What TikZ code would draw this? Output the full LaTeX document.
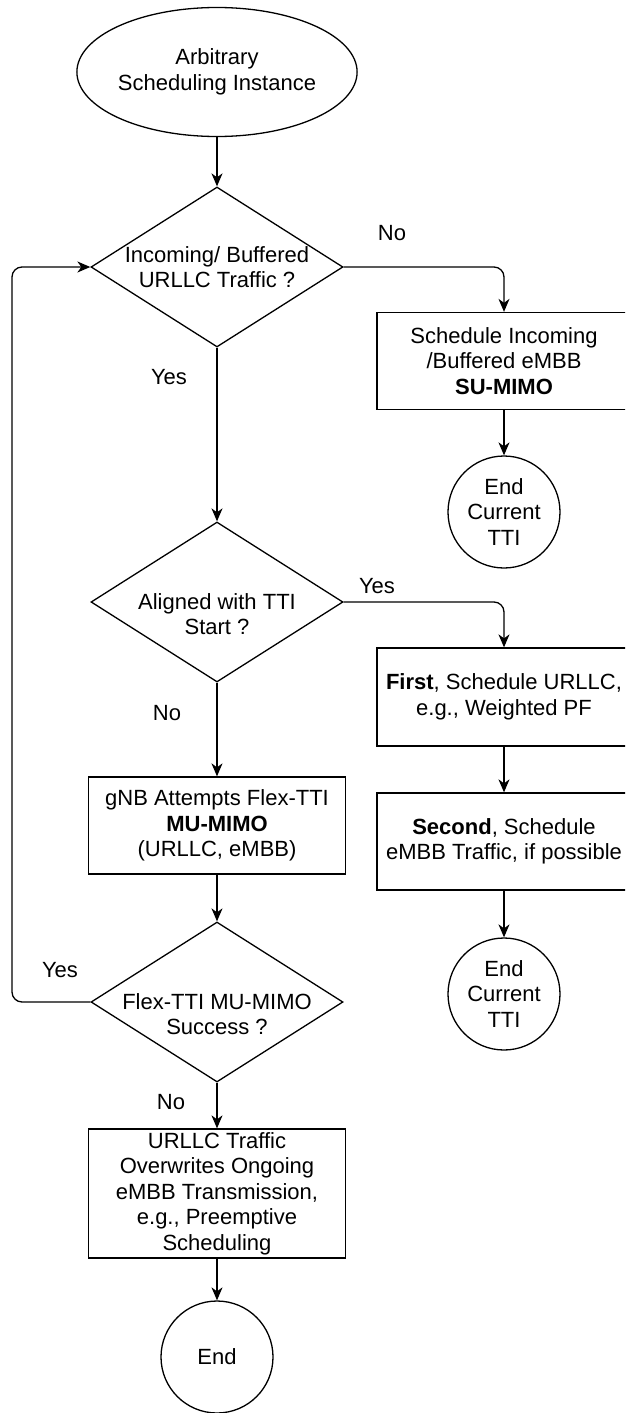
\documentclass[tikz,border=0pt]{standalone}
\usepackage{fontspec}
\setmainfont{Liberation Sans}
\usetikzlibrary{shapes.geometric,arrows.meta}

\begin{document}
\begin{tikzpicture}[x=1pt, y=-1pt,
    every node/.style={font=\fontsize{22}{25.5}\selectfont, align=center},
    terminal/.style={ellipse, draw, line width=1.3pt, inner sep=0pt},
    decision/.style={diamond, draw, line width=1.3pt, minimum width=252pt, minimum height=160pt, inner sep=0pt},
    process/.style={rectangle, draw, line width=1.3pt, minimum width=257pt, minimum height=97pt, inner sep=0pt},
    stop/.style={circle, draw, line width=1.3pt, minimum size=112pt, inner sep=0pt},
    flow/.style={-{Stealth[length=13pt, width=11pt, inset=4pt]}, line width=1.3pt, rounded corners=10pt}
]

        % Keep the picture to the size of the page
        \clip (0,0) rectangle (625,1413);

        % Start and the first question
        \node[terminal, minimum width=225pt, minimum height=129pt] (start) at (217,72) {Arbitrary\\Scheduling Instance};
        \node[decision] (q1) at (217,267) {};
        \node (q1t) at (217,267) {Incoming/ Buffered\\URLLC Traffic ?};

        % Right column, no URLLC traffic
        \node[process, minimum width=254pt] (b1) at (504,361) {Schedule Incoming\\/Buffered eMBB\\\textbf{SU-MIMO}};
        \node[stop] (c1) at (504,512) {End\\Current\\TTI};

        % Second question and its right column
        \node[decision] (q2) at (217,602) {};
        \node (q2t) at (217,614) {Aligned with TTI\\Start ?};
        \node[process, minimum width=254pt, minimum height=98pt] (b2) at (504,697) {\textbf{First}, Schedule URLLC,\\e.g., Weighted PF};
        \node[process, minimum width=254pt] (b4) at (504,841.5) {\textbf{Second}, Schedule\\eMBB Traffic, if possible};
        \node[stop] (c2) at (504,994) {End\\Current\\TTI};

        % Left column, flex TTI
        \node[process] (b3) at (217,825.5) {gNB Attempts Flex-TTI\\\textbf{MU-MIMO}\\(URLLC, eMBB)};
        \node[decision] (q3) at (217,1002) {};
        \node (q3t) at (217,1014) {Flex-TTI MU-MIMO\\Success ?};
        \node[process, minimum height=129pt] (b5) at (217,1193.5) {URLLC Traffic\\Overwrites Ongoing\\eMBB Transmission,\\e.g., Preemptive\\Scheduling};
        \node[stop] (fin) at (217,1357) {End};

        % Yes / No labels
        \node (no1) at (392,233) {No};
        \node (yes1) at (169,377) {Yes};
        \node (yes2) at (377,586) {Yes};
        \node (no2) at (167,713) {No};
        \node (yes3) at (60,970) {Yes};
        \node (no3) at (171,1102) {No};

        % Corner of the way back
        \coordinate (back) at (12,640);

        % Connectors
        \draw[flow] (start) -- (q1);
        \draw[flow] (q1.east) -| (b1.north);
        \draw[flow] (b1) -- (c1);
        \draw[flow] (q1) -- (q2);
        \draw[flow] (q2.east) -| (b2.north);
        \draw[flow] (b2) -- (b4);
        \draw[flow] (b4) -- (c2);
        \draw[flow] (q2) -- (b3);
        \draw[flow] (b3) -- (q3);
        \draw[flow] (q3) -- (b5);
        \draw[flow] (b5) -- (fin);
        \draw[flow] (q3.west) -| (back) |- (q1.west);

\end{tikzpicture}
\end{document}
